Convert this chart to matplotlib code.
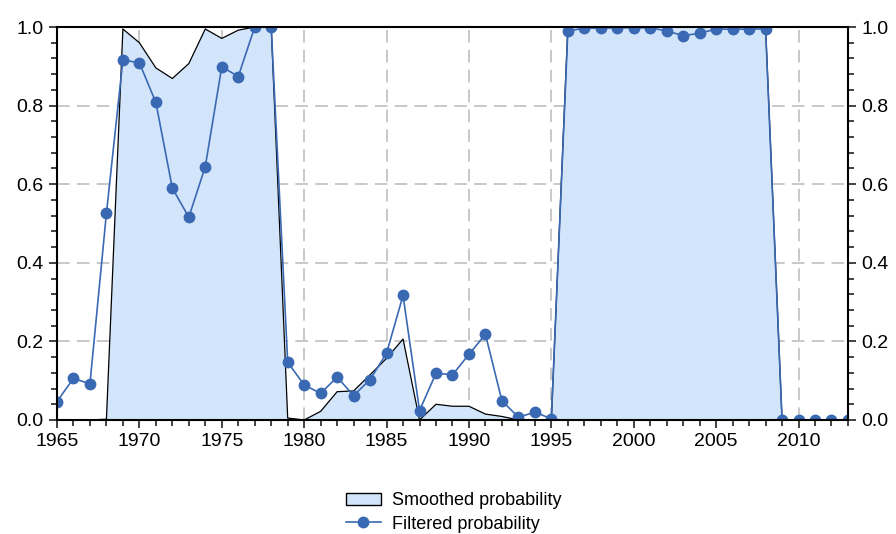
import numpy as np
import matplotlib.pyplot as plt
from matplotlib.ticker import MultipleLocator, FormatStrFormatter
from matplotlib.patches import Patch
from matplotlib.lines import Line2D

plt.rcParams['font.family'] = ['Liberation Sans', 'DejaVu Sans']

years = np.arange(1965, 2014)

smoothed = [0.0, 0.0, 0.0, 0.002, 0.995, 0.96, 0.896, 0.869, 0.907, 0.995,
            0.971, 0.992, 1.0, 1.0, 0.005, 0.0, 0.022, 0.072, 0.074, 0.115,
            0.157, 0.206, 0.0, 0.04, 0.035, 0.035, 0.015, 0.009, 0.0, 0.0,
            0.0, 1.0, 1.0, 1.0, 1.0, 1.0, 1.0, 1.0, 1.0, 1.0,
            1.0, 1.0, 1.0, 1.0, 0.0, 0.0, 0.0, 0.0, 0.0]

filtered = [0.047, 0.106, 0.092, 0.526, 0.916, 0.909, 0.808, 0.590, 0.516, 0.645,
            0.899, 0.874, 1.0, 1.0, 0.147, 0.089, 0.068, 0.109, 0.062, 0.103,
            0.170, 0.317, 0.024, 0.119, 0.115, 0.167, 0.218, 0.049, 0.007, 0.020,
            0.003, 0.990, 0.997, 0.997, 0.998, 0.998, 0.998, 0.990, 0.978, 0.984,
            0.995, 0.994, 0.995, 0.995, 0.0, 0.0, 0.0, 0.0, 0.0]

fill_col = '#d3e5fb'
line_col = '#3a69b3'

fig = plt.figure(figsize=(8.96, 5.34), dpi=100)
ax = fig.add_axes([0.0636, 0.2135, 0.8828, 0.7359])

ax.fill_between(years, smoothed, 0, facecolor=fill_col, edgecolor='none', zorder=2)
ax.plot(years, smoothed, color='black', lw=0.9, zorder=3)
ax.plot(years, filtered, color=line_col, lw=1.2, marker='o', markersize=7.5, zorder=4)

ax.set_xlim(1965, 2013)
ax.set_ylim(0, 1)
ax.xaxis.set_major_locator(MultipleLocator(5))
ax.xaxis.set_minor_locator(MultipleLocator(1))
ax.yaxis.set_major_locator(MultipleLocator(0.2))
ax.yaxis.set_minor_locator(MultipleLocator(0.04))
ax.yaxis.set_major_formatter(FormatStrFormatter('%.1f'))

ax.grid(True, which='major', color='#c4c4c4', ls=(0, (7, 4)), lw=1.3, zorder=1)
ax.set_axisbelow(True)

ax.tick_params(which='both', direction='out', labelsize=14, right=True, labelright=True,
               width=1.2, color='#222222')
ax.tick_params(which='major', length=6)
ax.tick_params(which='minor', length=4)
for s in ax.spines.values():
    s.set_linewidth(1.5)
    s.set_zorder(5)

handles = [Patch(facecolor=fill_col, edgecolor='black', lw=1.0),
           Line2D([], [], color=line_col, lw=1.2, marker='o', markersize=7.5)]
fig.legend(handles, ['Smoothed probability', 'Filtered probability'],
           loc='upper center', bbox_to_anchor=(0.506, 0.095), frameon=False,
           fontsize=13, handlelength=1.95, handletextpad=0.6, labelspacing=0.35,
           borderpad=0)

fig.savefig('out.png', dpi=100)
